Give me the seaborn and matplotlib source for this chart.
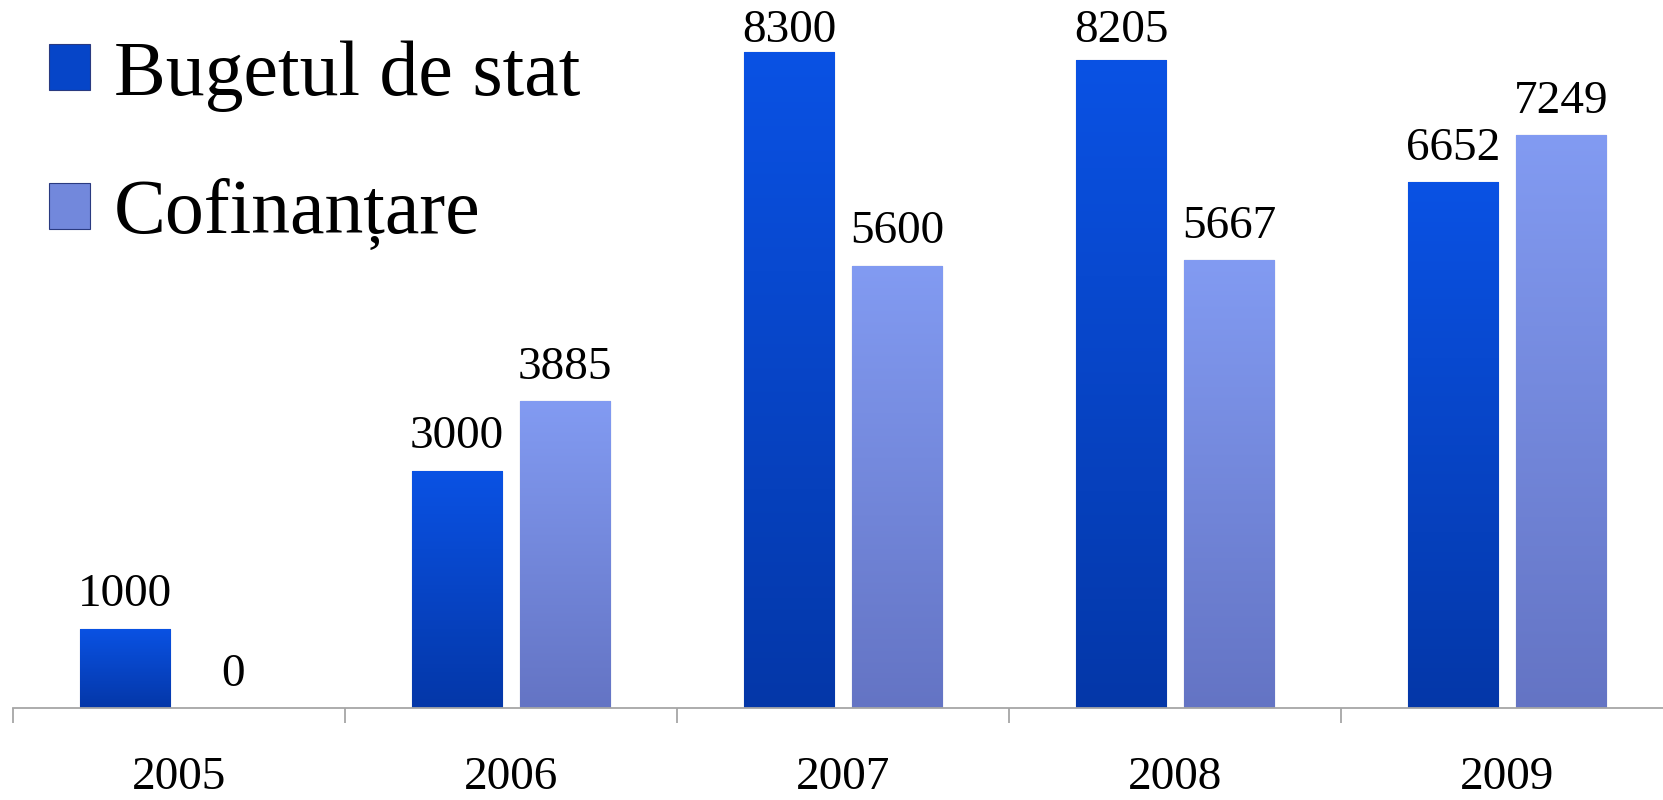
import numpy as np
import pandas as pd
import matplotlib
matplotlib.use('Agg')
import matplotlib.pyplot as plt
import seaborn as sns
from matplotlib.colors import LinearSegmentedColormap
from matplotlib.patches import Patch

years = ['2005', '2006', '2007', '2008', '2009']
series = ['Bugetul de stat', 'Cofinanțare']
buget = [1000, 3000, 8300, 8205, 6652]
cofinantare = [0, 3885, 5600, 5667, 7249]

# gradient colours per series: (top, bottom)
grad_colors = {
    'Bugetul de stat': ('#0a52e4', '#0437a8'),
    'Cofinanțare': ('#829bf2', '#6474c4'),
}
mid_colors = ['#0645c8', '#7288dc']


def fill_gradient(ax, patch, top, bottom):
    x0, y0 = patch.get_x(), patch.get_y()
    w, h = patch.get_width(), patch.get_height()
    if h <= 0:
        return
    grad = np.linspace(0, 1, 256).reshape(-1, 1)
    cmap = LinearSegmentedColormap.from_list('bar', [bottom, top])
    im = ax.imshow(grad, extent=(x0, x0 + w, y0, y0 + h), origin='lower',
                   aspect='auto', cmap=cmap, zorder=patch.get_zorder() + 0.1,
                   interpolation='bilinear')
    im.set_clip_path(patch)


df = pd.DataFrame({
    'an': years * 2,
    'serie': [series[0]] * len(years) + [series[1]] * len(years),
    'valoare': buget + cofinantare,
})

sns.set_style('white')
plt.rcParams['font.family'] = ['Liberation Serif', 'DejaVu Serif']
plt.rcParams['text.color'] = 'black'

fig = plt.figure(figsize=(16.63, 8), dpi=100)
ax = fig.add_axes([13 / 1663, 92 / 800, 1660 / 1663, 708 / 800])

sns.barplot(data=df, x='an', y='valoare', hue='serie', hue_order=series,
            palette=mid_colors, width=0.65, gap=0.16, legend=False,
            edgecolor='#2a3a80', linewidth=0.8, ax=ax)

for cont, name in zip(ax.containers, series):
    top, bottom = grad_colors[name]
    for p in cont:
        fill_gradient(ax, p, top, bottom)

ax.set_xlim(-0.5, 4.5)
ax.set_ylim(0, 8962)

# value labels
labels = []
for cont in ax.containers:
    labels += ax.bar_label(cont, fmt='%d', padding=9, fontsize=34, color='black')

# axes styling
for s in ['left', 'top', 'right']:
    ax.spines[s].set_visible(False)
ax.spines['bottom'].set_color('#a6a6a6')
ax.spines['bottom'].set_linewidth(1.3)
ax.set_yticks([])
ax.set_xlabel('')
ax.set_ylabel('')
ax.set_xticks(np.arange(-0.5, 5.0, 1.0), minor=True)
ax.tick_params(axis='x', which='major', length=0, pad=35, labelsize=34,
               labelcolor='black')
ax.tick_params(axis='x', which='minor', bottom=True, length=11, width=1.3,
               color='#a6a6a6')

handles = [Patch(facecolor=c, edgecolor='#2a3a80', linewidth=0.8) for c in mid_colors]
leg = ax.legend(handles, series, loc='upper left',
                bbox_to_anchor=(49 / 1663, 1 - 40 / 800),
                bbox_transform=fig.transFigure, frameon=False, fontsize=56,
                handlelength=0.53, handleheight=0.53, handletextpad=0.3,
                labelspacing=0.86, borderpad=0, borderaxespad=0)
for t in leg.get_texts():
    t.set_color('black')

# keep labels that would leave the figure inside it (like the original)
fig.canvas.draw()
H = fig.bbox.height
for t in labels:
    bb = t.get_window_extent()
    if bb.y1 > H - 10:
        dx, dy = t.xyann
        t.xyann = (dx, dy - (bb.y1 - (H - 10)) * 72 / fig.dpi)

fig.savefig('out.png', dpi=100)
